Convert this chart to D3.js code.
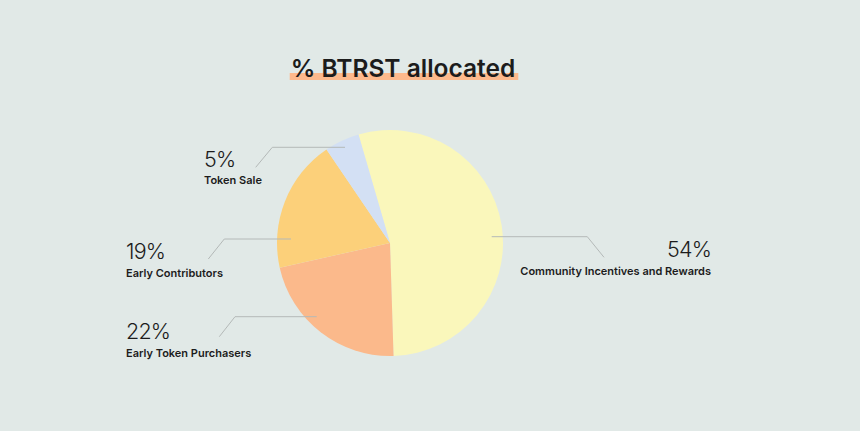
<!DOCTYPE html>
<html>
<head>
<meta charset="utf-8">
<script src="https://cdn.jsdelivr.net/npm/d3@7"></script>
<style>
  html, body { margin: 0; padding: 0; background: #e1e9e7; }
  #chart { width: 860px; height: 431px; }
</style>
</head>
<body>
<div id="chart"></div>
<script>
// data
let categories = ["Community Incentives and Rewards", "Early Token Purchasers", "Early Contributors", "Token Sale"];
let values = [54, 22, 19, 5];
let sliceColors = ["#faf7bb", "#fbb98b", "#fcd07a", "#d3e0f4"];
let chartTitle = "% BTRST allocated";

function drawChart() {
    let div_id = "#chart";
    let win_width = 860, win_height = 431;

    let svg = d3.select(div_id)
        .append("svg")
        .attr("width", win_width)
        .attr("height", win_height)
        .attr("viewBox", "0 0 " + win_width + " " + win_height);

    svg.append("rect")
        .attr("width", win_width).attr("height", win_height)
        .attr("fill", "#e1e9e7");

    // title with highlight bar
    let title = svg.append("g");
    let tt = title.append("text")
        .attr("x", 403)
        .attr("y", 77)
        .attr("text-anchor", "middle")
        .attr("font-family", "Inter, 'Noto Sans', sans-serif")
        .attr("font-weight", 600)
        .attr("font-size", 24.5)
        .attr("fill", "#1c1c1c")
        .text(chartTitle);
    let bb = tt.node().getBBox();
    title.insert("rect", "text")
        .attr("x", bb.x - 1)
        .attr("y", 73)
        .attr("width", bb.width + 4)
        .attr("height", 7)
        .attr("fill", "#fdb98c");

    // pie
    let cx = 390, cy = 243, radius = 113;
    let start = -16.2 * Math.PI / 180;
    let pie = d3.pie().sort(null).value(d => d.value)
        .startAngle(start).endAngle(start + 2 * Math.PI);
    let arc = d3.arc().innerRadius(0).outerRadius(radius);

    let data = categories.map((c, i) => ({ name: c, value: values[i], color: sliceColors[i] }));
    let arcs = pie(data);

    let g = svg.append("g").attr("transform", "translate(" + cx + "," + cy + ")");
    g.selectAll("path")
        .data(arcs)
        .join("path")
        .attr("d", arc)
        .attr("fill", d => d.data.color);

    // label layout (positions only)
    let layout = [
        { lx: 711, ly: 257, anchor: "end", lineY: 236.7, innerX: 491.7, elbowX: 587.3, endX: 604, endY: 257.3 },
        { lx: 126, ly: 339, anchor: "start", lineY: 316.7, innerX: 316.7, elbowX: 235, endX: 219.3, endY: 336.7 },
        { lx: 126, ly: 259, anchor: "start", lineY: 239, innerX: 291, elbowX: 224.3, endX: 208.3, endY: 259 },
        { lx: 204, ly: 166.5, anchor: "start", lineY: 147.3, innerX: 345, elbowX: 272.3, endX: 255.7, endY: 167.3 }
    ];

    let labels = svg.append("g");
    arcs.forEach(function(a, i) {
        let L = layout[i];
        labels.append("path")
            .attr("d", d3.line()([[L.innerX, L.lineY], [L.elbowX, L.lineY], [L.endX, L.endY]]))
            .attr("fill", "none")
            .attr("stroke", "#b4b9b8")
            .attr("stroke-width", 1);
        labels.append("text")
            .attr("x", L.lx)
            .attr("y", L.ly)
            .attr("text-anchor", L.anchor)
            .attr("font-family", "Inter, 'Noto Sans', sans-serif")
            .attr("font-weight", 300)
            .attr("font-size", 21.5)
            .attr("letter-spacing", -0.8)
            .attr("fill", "#1c1c1c")
            .text(a.data.value + "%");
        labels.append("text")
            .attr("x", L.lx)
            .attr("y", L.ly + 17.5)
            .attr("text-anchor", L.anchor)
            .attr("font-family", "Inter, 'Noto Sans', sans-serif")
            .attr("font-weight", 600)
            .attr("font-size", 11)
            .attr("fill", "#1c1c1c")
            .text(a.data.name);
    });
}

drawChart();
</script>
</body>
</html>
